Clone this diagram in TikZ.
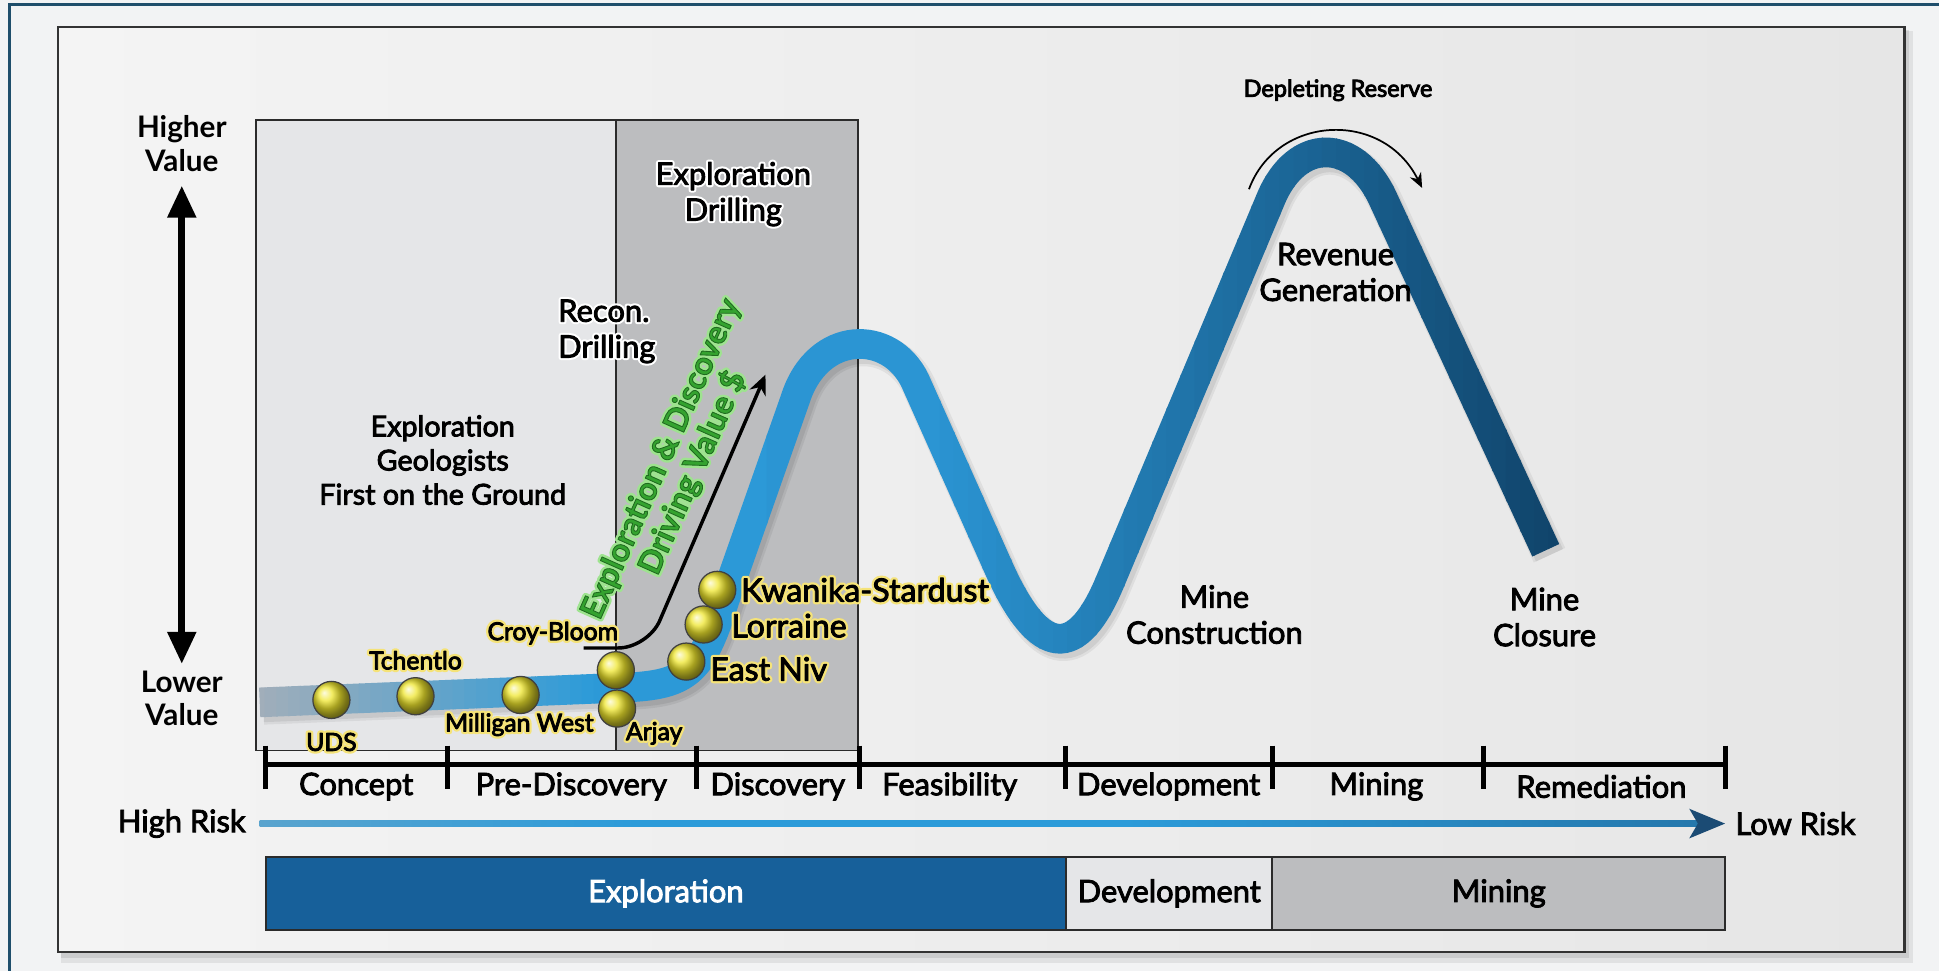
\documentclass[tikz,border=0pt]{standalone}
\usepackage{fontspec}
\setmainfont{Lato}
\usetikzlibrary{arrows.meta}

\definecolor{bgcol}{HTML}{F2F3F4}
\definecolor{frameblue}{HTML}{1F4E6B}
\definecolor{panelL}{HTML}{F4F4F4}
\definecolor{panelR}{HTML}{E6E6E6}
\definecolor{panelborder}{HTML}{333333}
\definecolor{lightbox}{HTML}{E5E6E8}
\definecolor{darkbox}{HTML}{BCBDBF}
\definecolor{boxline}{HTML}{2B2B2B}
\definecolor{cgray}{HTML}{A7AFB8}
\definecolor{cblue}{HTML}{2C9BD9}
\definecolor{cblueb}{HTML}{2A93D1}
\definecolor{cdark}{HTML}{0F4167}
\definecolor{ballyel}{HTML}{EFE62E}
\definecolor{vgreen}{HTML}{34A32F}
\definecolor{riskgray}{HTML}{B3B6BA}
\definecolor{riskdark}{HTML}{1B4B74}
\definecolor{expblue}{HTML}{17609A}

\pgfdeclarehorizontalshading{riskshade}{100bp}{color(0bp)=(riskgray); color(38bp)=(cblue); color(55bp)=(cblue); color(100bp)=(riskdark)}

% semibold text: fill + thin stroke of the given rgb
\newcommand\sbt[2]{\special{pdf:literal 2 Tr 0.35 w #1 RG}#2\special{pdf:literal 0 Tr}}
% halo: stroked copy behind, then semibold text
\newcommand\hal[4]{\rlap{\special{pdf:literal 1 Tr #2 w 1 J 1 j #1 RG}#4\special{pdf:literal 0 Tr}}\sbt{#3}{#4}}
\newcommand\bk[1]{\sbt{0 0 0}{#1}}
\newcommand\wb[1]{\hal{1 1 1}{2}{0 0 0}{#1}}
\newcommand\yb[1]{\hal{0.96 0.89 0.47}{2.2}{0 0 0}{#1}}
\newcommand\gb[1]{\hal{0.62 0.89 0.56}{2.4}{0.12 0.42 0.12}{#1}}

\newcommand\mcurvepath{(210,568) -- (505,556) .. controls (556,554) and (568,543) .. (586,485) -- (643,323) .. controls (661,266) and (720,266) .. (740,308) -- (807,458) .. controls (837,526) and (868,540) .. (897,472) -- (1028,160) .. controls (1049,111) and (1095,111) .. (1118,160) -- (1250,445)}

\newcommand\curvestrips[5]{%
  \foreach \k in {1,...,#3}{%
    \pgfmathsetmacro\sxa{#1+(\k-1)/#3*(#2-#1)}%
    \pgfmathsetmacro\sxb{#1+\k/#3*(#2-#1)+0.8}%
    \pgfmathtruncatemacro\spc{100*(\k-0.5)/#3}%
    \begin{scope}
      \clip (\sxa,0) rectangle (\sxb,800);
      \draw[line width=12pt, draw=#5!\spc!#4] \mcurvepath;
    \end{scope}}}

\begin{document}
\begin{tikzpicture}[x=0.5pt,y=-0.5pt,
  lbl/.style={font=\fontsize{12.5}{14.5}\selectfont, align=center, inner sep=0},
  bold/.style={font=\bfseries\fontsize{12}{13.5}\selectfont, align=center, inner sep=0},
  ylab/.style={font=\fontsize{10}{12}\selectfont, inner sep=0},
  Ylab/.style={font=\fontsize{13}{15}\selectfont, inner sep=0, anchor=west},
  ball/.style={circle, minimum size=15pt, inner sep=0, shade, ball color=ballyel, draw=black!75, line width=0.5pt},
  bar/.style={draw=boxline, line width=0.8pt, minimum height=29.5pt, inner sep=0, font=\fontsize{12.5}{14}\selectfont},
  tick/.style={line width=2pt}
]
\useasboundingbox (0,0) rectangle (1568,785);
% background and frame
\fill[bgcol] (0,0) rectangle (1568,785);
\draw[frameblue, line width=1.2pt] (8,800) -- (8,4) -- (1580,4);
% panel with soft shadow
\fill[black, opacity=0.07] (49,25) rectangle (1547,779);
\fill[black, opacity=0.09] (49,24) rectangle (1544,775);
\shade[left color=panelL, right color=panelR] (47,22) rectangle (1540,770);
\draw[panelborder, line width=1pt] (47,22) rectangle (1540,770);

% stage boxes
\filldraw[fill=lightbox, draw=boxline, line width=0.7pt] (207,97) rectangle (498,607);
\filldraw[fill=darkbox, draw=boxline, line width=0.7pt] (498,97) rectangle (694,607);

\node[lbl] (expdrill) at (593,157) {\wb{Exploration}\\\wb{Drilling}};
\node[lbl, align=left, anchor=west] (recon) at (451,268) {\wb{Recon.}\\\wb{Drilling}};
\node[lbl, font=\fontsize{11.6}{13.8}\selectfont] (geol) at (358,372) {\bk{Exploration}\\\bk{Geologists}\\\bk{First on the Ground}};

% value axis
\node[bold] (hival) at (147,116) {Higher\\Value};
\node[bold] (loval) at (147,565) {Lower\\Value};
\coordinate (vtop) at (147,150);
\coordinate (vbot) at (147,537);
\draw[line width=3pt, {Triangle[width=11pt,length=13pt]}-{Triangle[width=11pt,length=13pt]}] (vtop) -- (vbot);

% driving value arrow and text
\coordinate (vs) at (472,524);
\coordinate (vc) at (524,524);
\coordinate (vt) at (619,303);
\draw[line width=1.4pt, rounded corners=12pt, -{Stealth[length=8pt,width=7pt]}] (vs) -- (vc) -- (vt);
\node[rotate=66, font=\bfseries\fontsize{13}{14}\selectfont, text=vgreen, align=center, inner sep=0] (gtext) at (548,377) {\gb{Exploration \& Discovery}\\\gb{Driving Value \$}};

% main curve: soft shadow, then horizontal colour gradient
\begin{scope}[shift={(3,4)}]
  \draw[line width=14pt, black, opacity=0.06] \mcurvepath;
  \draw[line width=12pt, black, opacity=0.07] \mcurvepath;
\end{scope}
\curvestrips{195}{480}{30}{cgray}{cblue}
\curvestrips{480}{760}{2}{cblue}{cblueb}
\curvestrips{760}{1275}{45}{cblueb}{cdark}

% depleting reserve
\node[font=\fontsize{9.5}{11}\selectfont, inner sep=0] (deplete) at (1082,73) {\bk{Depleting Reserve}};
\coordinate (da) at (1010,153);
\coordinate (db) at (1150,152);
\draw[line width=0.7pt, -{Stealth[length=6pt,width=5pt]}] (da) .. controls (1032,93) and (1118,88) .. (db);

\node[lbl] (revenue) at (1080,220) {\bk{Revenue}\\\bk{Generation}};
\node[lbl] (construct) at (982,497) {\bk{Mine}\\\bk{Construction}};
\node[lbl] (closure) at (1249,499) {\bk{Mine}\\\bk{Closure}};

% balls
\node[ball] (b1) at (268,566) {};
\node[ball] (b2) at (336,563) {};
\node[ball] (b3) at (421,562) {};
\node[ball] (b4) at (498,542) {};
\node[ball] (b5) at (499,573) {};
\node[ball] (b6) at (555,535) {};
\node[ball] (b7) at (569,505) {};
\node[ball] (b8) at (580,477) {};
\node[ylab] (l1) at (268,600) {\yb{UDS}};
\node[ylab] (l2) at (336,534) {\yb{Tchentlo}};
\node[ylab] (l3) at (420,586) {\yb{Milligan West}};
\node[ylab] (l4) at (447,512) {\yb{Croy-Bloom}};
\node[ylab] (l5) at (529,593) {\yb{Arjay}};
\node[Ylab] (l6) at (574,541) {\yb{East Niv}};
\node[Ylab] (l7) at (591,506) {\yb{Lorraine}};
\node[Ylab] (l8) at (599,477) {\yb{Kwanika-Stardust}};

% timeline
\draw[tick] (215,618) -- (1395,618);
\foreach \x in {215,362,563,695,862,1029,1200,1395} \draw[tick] (\x,603) -- (\x,638);
\node[lbl] (t1) at (288,636) {\bk{Concept}};
\node[lbl] (t2) at (462,636) {\bk{Pre-Discovery}};
\node[lbl] (t3) at (629,636) {\bk{Discovery}};
\node[lbl] (t4) at (768,636) {\bk{Feasibility}};
\node[lbl] (t5) at (945,636) {\bk{Development}};
\node[lbl] (t6) at (1113,636) {\bk{Mining}};
\node[lbl] (t7) at (1295,636) {\bk{Remediation}};

% risk arrow
\node[lbl, anchor=east] (hirisk) at (199,666) {\bk{High Risk}};
\node[lbl, anchor=west] (lorisk) at (1403,666) {\bk{Low Risk}};
\shade[shading=riskshade] (210,663.5) rectangle (1375,668.5);
\fill[riskdark] (1395,666) -- (1366,654) -- (1373,666) -- (1366,678) -- cycle;

% bottom bar
\node[bar, fill=expblue, minimum width=323.5pt, text=white] (bexp) at (538.5,722.5) {\sbt{1 1 1}{Exploration}};
\node[bar, fill=lightbox, minimum width=83.5pt] (bdev) at (945.5,722.5) {\bk{Development}};
\node[bar, fill=darkbox, minimum width=183pt] (bmin) at (1212,722.5) {\bk{Mining}};
\end{tikzpicture}
\end{document}
